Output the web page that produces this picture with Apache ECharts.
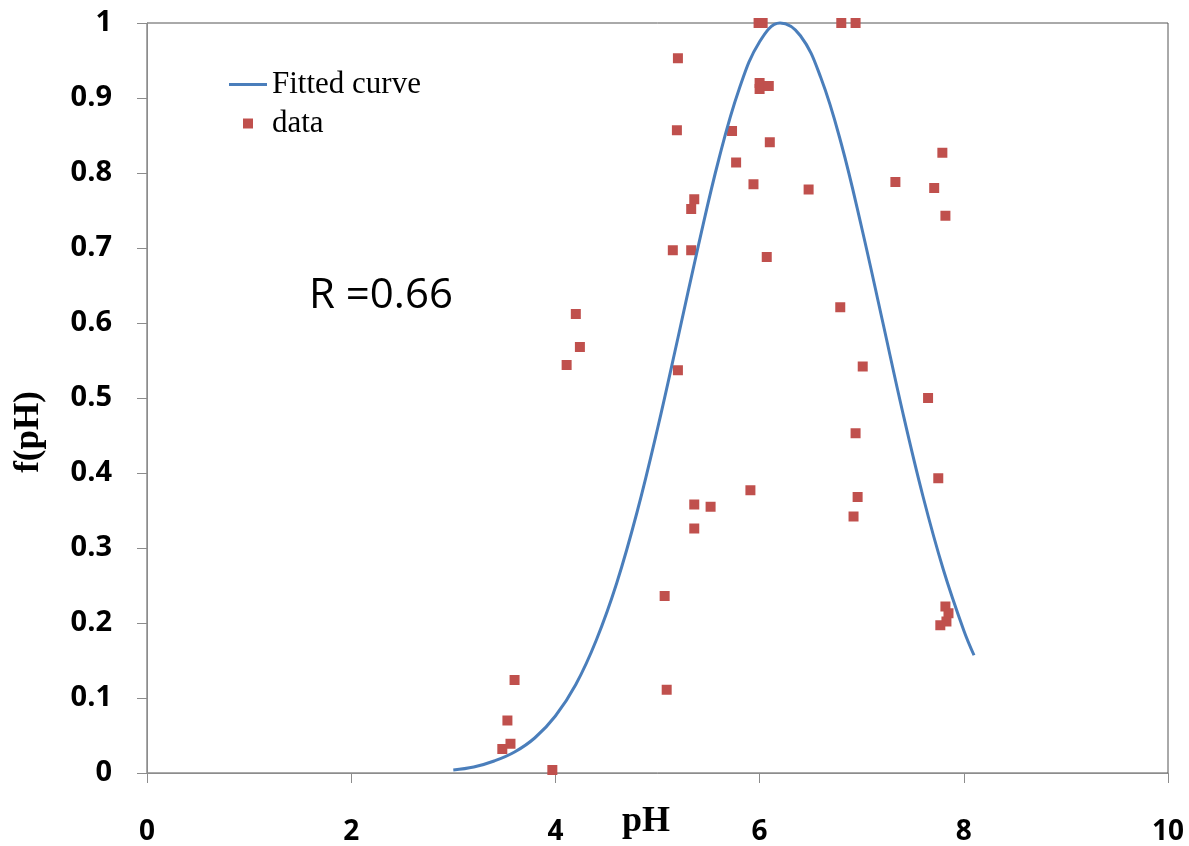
<!DOCTYPE html>
<html>
<head>
<meta charset="utf-8">
<title>f(pH)</title>
<script src="https://cdn.jsdelivr.net/npm/echarts@6/dist/echarts.min.js"></script>
<style>
  html, body { margin: 0; padding: 0; background: #fff; }
  #chart { width: 1189px; height: 846px; }
</style>
</head>
<body>
<div id="chart"></div>
<script>
// fitted curve
const curveX = [3.0, 3.2, 3.4, 3.6, 3.8, 4.0, 4.2, 4.4, 4.6, 4.8, 5.0, 5.2, 5.4, 5.6, 5.8, 6.0, 6.2, 6.4, 6.6, 6.8, 7.0, 7.2, 7.4, 7.6, 7.8, 8.0, 8.1]
const curveY = [0.004, 0.008, 0.016, 0.028, 0.047, 0.076, 0.118, 0.177, 0.253, 0.348, 0.459, 0.580, 0.703, 0.818, 0.912, 0.975, 1.0, 0.983, 0.927, 0.839, 0.727, 0.605, 0.482, 0.369, 0.271, 0.190, 0.157]

// measured points
const phValues = [
  5.20, 5.19, 5.73, 5.77, 5.36, 5.33, 5.15, 5.33,
  5.99, 6.03, 6.80, 6.94, 6.00, 6.00, 6.09, 6.10, 5.94, 6.48, 7.33, 7.71, 7.79, 7.82, 6.07,
  4.20, 4.24, 4.11, 5.20, 5.36, 5.52, 5.36,
  6.79, 7.01, 7.65, 6.94, 7.75, 5.91, 6.96, 6.92,
  5.07, 5.09, 3.60, 3.53, 3.56, 3.48, 3.97,
  7.82, 7.85, 7.83, 7.77
]
const fValues = [
  0.953, 0.857, 0.856, 0.814, 0.765, 0.752, 0.697, 0.697,
  1.0, 1.0, 1.0, 1.0, 0.920, 0.912, 0.916, 0.841, 0.785, 0.778, 0.788, 0.780, 0.827, 0.743, 0.688,
  0.612, 0.568, 0.544, 0.537, 0.358, 0.355, 0.326,
  0.621, 0.542, 0.500, 0.453, 0.393, 0.377, 0.368, 0.342,
  0.236, 0.111, 0.124, 0.070, 0.039, 0.032, 0.004,
  0.222, 0.213, 0.202, 0.197
]

const seriesNames = ['Fitted curve', 'data']
const rText = 'R =0.66'

const lineColor = '#4a7ebb'
const dotColor = '#c0504d'
const labelFont = '"Open Sans", "Noto Sans", sans-serif'
const serifFont = '"Liberation Serif", "DejaVu Serif", serif'

const chart = echarts.init(document.getElementById('chart'))

const option = {
  animation: false,
  backgroundColor: '#fff',
  grid: {
    left: 147,
    right: 21,
    top: 23,
    bottom: 73,
    outerBoundsMode: 'none',
    containLabel: false,
    show: true,
    borderColor: '#555',
    borderWidth: 1,
  },
  legend: {
    orient: 'vertical',
    left: 224,
    top: 64,
    itemWidth: 38,
    itemHeight: 10,
    itemGap: 8,
    data: [
      { name: seriesNames[0], icon: 'path://M0,0H38V3H0Z' },
      { name: seriesNames[1], icon: 'path://M0,0H10V10H0Z' },
    ],
    textStyle: {
      fontFamily: serifFont,
      fontSize: 31,
      color: '#000',
    },
  },
  xAxis: {
    type: 'value',
    min: 0,
    max: 10,
    interval: 2,
    splitLine: { show: false },
    axisLine: { lineStyle: { color: '#8c8c8c', width: 1 } },
    axisTick: { inside: false, length: 10, lineStyle: { color: '#8c8c8c' } },
    axisLabel: {
      margin: 45,
      fontFamily: labelFont,
      fontWeight: 'bold',
      fontSize: 28,
      color: '#000',
    },
  },
  yAxis: {
    type: 'value',
    min: 0,
    max: 1,
    interval: 0.1,
    splitLine: { show: false },
    axisLine: { show: true, lineStyle: { color: '#8c8c8c', width: 1 } },
    axisTick: { show: true, inside: false, length: 10, lineStyle: { color: '#8c8c8c' } },
    axisLabel: {
      margin: 35,
      fontFamily: labelFont,
      fontWeight: 'bold',
      fontSize: 29,
      color: '#000',
    },
  },
  series: [
    {
      name: seriesNames[0],
      type: 'line',
      data: curveX.map((x, i) => [x, curveY[i]]),
      smooth: 0.4,
      symbol: 'none',
      clip: false,
      lineStyle: { color: lineColor, width: 3 },
      itemStyle: { color: lineColor },
    },
    {
      name: seriesNames[1],
      type: 'scatter',
      data: phValues.map((x, i) => [x, fValues[i]]),
      symbol: 'rect',
      symbolSize: 10,
      itemStyle: { color: dotColor, opacity: 1 },
    },
  ],
  graphic: [
    {
      type: 'text',
      left: 309,
      top: 275,
      style: {
        text: rText,
        fontFamily: labelFont,
        fontSize: 42,
        fill: '#000',
      },
    },
    {
      type: 'text',
      x: 646,
      y: 822,
      style: {
        text: 'pH',
        fontFamily: serifFont,
        fontWeight: 'bold',
        fontSize: 36,
        fill: '#000',
        align: 'center',
        verticalAlign: 'middle',
      },
    },
    {
      type: 'text',
      x: 29,
      y: 432,
      rotation: Math.PI / 2,
      style: {
        text: 'f(pH)',
        fontFamily: serifFont,
        fontWeight: 'bold',
        fontSize: 35,
        fill: '#000',
        align: 'center',
        verticalAlign: 'middle',
      },
    },
  ],
}

chart.setOption(option)
</script>
</body>
</html>
